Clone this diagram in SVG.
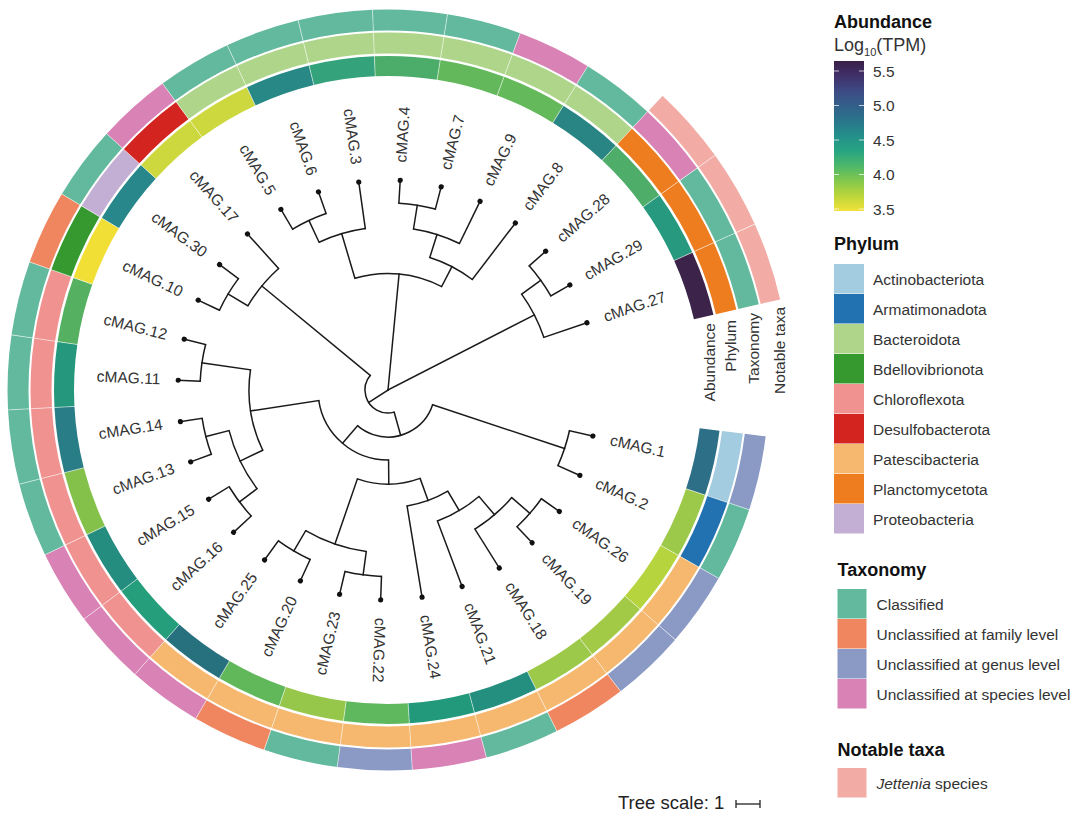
<svg xmlns="http://www.w3.org/2000/svg" width="1080" height="820" viewBox="0 0 1080 820">
<style>
text{font-family:"Liberation Sans",Arial,Helvetica,sans-serif;}
.leaf text{font-size:15.5px;fill:#333;}
.dot{fill:#111;}
.br line{stroke:#1a1a1a;stroke-width:1.5;stroke-linecap:square;}
.br circle{fill:none;stroke:#1a1a1a;stroke-width:1.5;}
.ring circle{fill:none;}
.ab{stroke-width:20;stroke-dasharray:64.09 2100;}
.ph{stroke-width:21;stroke-dasharray:68.64 2200;}
.tx{stroke-width:21;stroke-dasharray:73.19 2300;}
.nt{stroke-width:20;stroke-dasharray:77.64 2500;stroke:#f2aca5;}
.sep line{stroke:#fff;stroke-width:0.8;stroke-opacity:0.6;}
.pact{stroke:#a3cce0}.parm{stroke:#2271b0}.pbac{stroke:#afd58a}.pbde{stroke:#35992f}.pchl{stroke:#f09290}.pdes{stroke:#d42420}.ppat{stroke:#f5b86e}.ppla{stroke:#ee7d1f}.ppro{stroke:#c4afd4}
.tc{stroke:#62b99d}.tf{stroke:#ef865f}.tg{stroke:#8a9ac5}.ts{stroke:#d882b5}
.rl{font-size:15.5px;fill:#333;}
.lt{font-size:18px;font-weight:bold;fill:#111;}
.li{font-size:15.5px;fill:#333;}
.tick{stroke:#fff;stroke-width:1;stroke-opacity:0.7;}
</style>
<defs>
<linearGradient id="vir" x1="0" y1="0" x2="0" y2="1">
<stop offset="0" stop-color="#3a2048"/>
<stop offset="0.1" stop-color="#40306a"/>
<stop offset="0.2" stop-color="#3d4a84"/>
<stop offset="0.3" stop-color="#33608a"/>
<stop offset="0.4" stop-color="#2a768b"/>
<stop offset="0.5" stop-color="#24908a"/>
<stop offset="0.6" stop-color="#27a481"/>
<stop offset="0.7" stop-color="#4db86a"/>
<stop offset="0.8" stop-color="#84c84c"/>
<stop offset="0.9" stop-color="#bcd63a"/>
<stop offset="1" stop-color="#f2e23a"/>
</linearGradient>
</defs>
<rect width="1080" height="820" fill="#fff"/>

<!-- Rings -->
<g id="rings" class="ring" transform="translate(388,390)">
<g id="abundance-ring">
<circle class="ab" r="324" stroke="#2e6f88" transform="rotate(7)"/>
<circle class="ab" r="324" stroke="#9dc94b" transform="rotate(18.333)"/>
<circle class="ab" r="324" stroke="#b6d43e" transform="rotate(29.667)"/>
<circle class="ab" r="324" stroke="#a3ca47" transform="rotate(41)"/>
<circle class="ab" r="324" stroke="#9dc94b" transform="rotate(52.333)"/>
<circle class="ab" r="324" stroke="#258f7f" transform="rotate(63.667)"/>
<circle class="ab" r="324" stroke="#22997b" transform="rotate(75)"/>
<circle class="ab" r="324" stroke="#5fb85d" transform="rotate(86.333)"/>
<circle class="ab" r="324" stroke="#96c74b" transform="rotate(97.667)"/>
<circle class="ab" r="324" stroke="#61b85b" transform="rotate(109)"/>
<circle class="ab" r="324" stroke="#27717f" transform="rotate(120.333)"/>
<circle class="ab" r="324" stroke="#259e7c" transform="rotate(131.667)"/>
<circle class="ab" r="324" stroke="#258c80" transform="rotate(143)"/>
<circle class="ab" r="324" stroke="#84c14b" transform="rotate(154.333)"/>
<circle class="ab" r="324" stroke="#297d87" transform="rotate(165.667)"/>
<circle class="ab" r="324" stroke="#24977d" transform="rotate(177)"/>
<circle class="ab" r="324" stroke="#55b061" transform="rotate(188.333)"/>
<circle class="ab" r="324" stroke="#f1df35" transform="rotate(199.667)"/>
<circle class="ab" r="324" stroke="#27878a" transform="rotate(211)"/>
<circle class="ab" r="324" stroke="#cdd83f" transform="rotate(222.333)"/>
<circle class="ab" r="324" stroke="#cdd83f" transform="rotate(233.667)"/>
<circle class="ab" r="324" stroke="#288885" transform="rotate(245)"/>
<circle class="ab" r="324" stroke="#34a27a" transform="rotate(256.333)"/>
<circle class="ab" r="324" stroke="#4cac6a" transform="rotate(267.667)"/>
<circle class="ab" r="324" stroke="#62b85b" transform="rotate(279)"/>
<circle class="ab" r="324" stroke="#64b95b" transform="rotate(290.333)"/>
<circle class="ab" r="324" stroke="#298584" transform="rotate(301.667)"/>
<circle class="ab" r="324" stroke="#4fad6a" transform="rotate(313)"/>
<circle class="ab" r="324" stroke="#26997f" transform="rotate(324.333)"/>
<circle class="ab" r="324" stroke="#3b2349" transform="rotate(335.667)"/>
</g>
<g id="phylum-ring">
<circle class="ph pact" r="347" transform="rotate(7)"/>
<circle class="ph parm" r="347" transform="rotate(18.333)"/>
<circle class="ph ppat" r="347" transform="rotate(29.667)"/>
<circle class="ph ppat" r="347" transform="rotate(41)"/>
<circle class="ph ppat" r="347" transform="rotate(52.333)"/>
<circle class="ph ppat" r="347" transform="rotate(63.667)"/>
<circle class="ph ppat" r="347" transform="rotate(75)"/>
<circle class="ph ppat" r="347" transform="rotate(86.333)"/>
<circle class="ph ppat" r="347" transform="rotate(97.667)"/>
<circle class="ph ppat" r="347" transform="rotate(109)"/>
<circle class="ph ppat" r="347" transform="rotate(120.333)"/>
<circle class="ph pchl" r="347" transform="rotate(131.667)"/>
<circle class="ph pchl" r="347" transform="rotate(143)"/>
<circle class="ph pchl" r="347" transform="rotate(154.333)"/>
<circle class="ph pchl" r="347" transform="rotate(165.667)"/>
<circle class="ph pchl" r="347" transform="rotate(177)"/>
<circle class="ph pchl" r="347" transform="rotate(188.333)"/>
<circle class="ph pbde" r="347" transform="rotate(199.667)"/>
<circle class="ph ppro" r="347" transform="rotate(211)"/>
<circle class="ph pdes" r="347" transform="rotate(222.333)"/>
<circle class="ph pbac" r="347" transform="rotate(233.667)"/>
<circle class="ph pbac" r="347" transform="rotate(245)"/>
<circle class="ph pbac" r="347" transform="rotate(256.333)"/>
<circle class="ph pbac" r="347" transform="rotate(267.667)"/>
<circle class="ph pbac" r="347" transform="rotate(279)"/>
<circle class="ph pbac" r="347" transform="rotate(290.333)"/>
<circle class="ph pbac" r="347" transform="rotate(301.667)"/>
<circle class="ph ppla" r="347" transform="rotate(313)"/>
<circle class="ph ppla" r="347" transform="rotate(324.333)"/>
<circle class="ph ppla" r="347" transform="rotate(335.667)"/>
</g>
<g id="taxonomy-ring">
<circle class="tx tg" r="370" transform="rotate(7)"/>
<circle class="tx tc" r="370" transform="rotate(18.333)"/>
<circle class="tx tg" r="370" transform="rotate(29.667)"/>
<circle class="tx tg" r="370" transform="rotate(41)"/>
<circle class="tx tf" r="370" transform="rotate(52.333)"/>
<circle class="tx tc" r="370" transform="rotate(63.667)"/>
<circle class="tx ts" r="370" transform="rotate(75)"/>
<circle class="tx tg" r="370" transform="rotate(86.333)"/>
<circle class="tx tc" r="370" transform="rotate(97.667)"/>
<circle class="tx tf" r="370" transform="rotate(109)"/>
<circle class="tx ts" r="370" transform="rotate(120.333)"/>
<circle class="tx ts" r="370" transform="rotate(131.667)"/>
<circle class="tx ts" r="370" transform="rotate(143)"/>
<circle class="tx tc" r="370" transform="rotate(154.333)"/>
<circle class="tx tc" r="370" transform="rotate(165.667)"/>
<circle class="tx tc" r="370" transform="rotate(177)"/>
<circle class="tx tc" r="370" transform="rotate(188.333)"/>
<circle class="tx tf" r="370" transform="rotate(199.667)"/>
<circle class="tx tc" r="370" transform="rotate(211)"/>
<circle class="tx ts" r="370" transform="rotate(222.333)"/>
<circle class="tx tc" r="370" transform="rotate(233.667)"/>
<circle class="tx tc" r="370" transform="rotate(245)"/>
<circle class="tx tc" r="370" transform="rotate(256.333)"/>
<circle class="tx tc" r="370" transform="rotate(267.667)"/>
<circle class="tx tc" r="370" transform="rotate(279)"/>
<circle class="tx ts" r="370" transform="rotate(290.333)"/>
<circle class="tx tc" r="370" transform="rotate(301.667)"/>
<circle class="tx ts" r="370" transform="rotate(313)"/>
<circle class="tx tc" r="370" transform="rotate(324.333)"/>
<circle class="tx tc" r="370" transform="rotate(335.667)"/>
</g>
<g id="notable-ring">
<circle class="nt" r="392.5" transform="rotate(313)"/>
<circle class="nt" r="392.5" transform="rotate(324.333)"/>
<circle class="nt" r="392.5" transform="rotate(335.667)"/>
</g>
<g class="sep">
<line x1="313" x2="381" transform="rotate(18.333)"/>
<line x1="313" x2="381" transform="rotate(29.667)"/>
<line x1="313" x2="381" transform="rotate(41)"/>
<line x1="313" x2="381" transform="rotate(52.333)"/>
<line x1="313" x2="381" transform="rotate(63.667)"/>
<line x1="313" x2="381" transform="rotate(75)"/>
<line x1="313" x2="381" transform="rotate(86.333)"/>
<line x1="313" x2="381" transform="rotate(97.667)"/>
<line x1="313" x2="381" transform="rotate(109)"/>
<line x1="313" x2="381" transform="rotate(120.333)"/>
<line x1="313" x2="381" transform="rotate(131.667)"/>
<line x1="313" x2="381" transform="rotate(143)"/>
<line x1="313" x2="381" transform="rotate(154.333)"/>
<line x1="313" x2="381" transform="rotate(165.667)"/>
<line x1="313" x2="381" transform="rotate(177)"/>
<line x1="313" x2="381" transform="rotate(188.333)"/>
<line x1="313" x2="381" transform="rotate(199.667)"/>
<line x1="313" x2="381" transform="rotate(211)"/>
<line x1="313" x2="381" transform="rotate(222.333)"/>
<line x1="313" x2="381" transform="rotate(233.667)"/>
<line x1="313" x2="381" transform="rotate(245)"/>
<line x1="313" x2="381" transform="rotate(256.333)"/>
<line x1="313" x2="381" transform="rotate(267.667)"/>
<line x1="313" x2="381" transform="rotate(279)"/>
<line x1="313" x2="381" transform="rotate(290.333)"/>
<line x1="313" x2="381" transform="rotate(301.667)"/>
<line x1="313" x2="403" transform="rotate(313)"/>
<line x1="313" x2="403" transform="rotate(324.333)"/>
<line x1="313" x2="403" transform="rotate(335.667)"/>
</g>
</g>

<!-- Ring labels -->
<g id="ring-labels" class="rl">
<text class="rl" transform="translate(715,323) rotate(-90)" text-anchor="end">Abundance</text>
<text class="rl" transform="translate(736,320) rotate(-90)" text-anchor="end">Phylum</text>
<text class="rl" transform="translate(759,313) rotate(-90)" text-anchor="end">Taxonomy</text>
<text class="rl" transform="translate(785,307) rotate(-90)" text-anchor="end">Notable taxa</text>
</g>

<!-- Tree branches -->
<g id="connectors" class="br" transform="translate(388,390)">
<line x1="186" x2="210" transform="rotate(12.667)"/>
<line x1="186" x2="210" transform="rotate(24)"/>
<line x1="188" x2="210" transform="rotate(35.333)"/>
<line x1="188" x2="210" transform="rotate(46.667)"/>
<line x1="164" x2="210" transform="rotate(58)"/>
<line x1="140" x2="210" transform="rotate(69.333)"/>
<line x1="117.5" x2="210" transform="rotate(80.667)"/>
<line x1="186.5" x2="210" transform="rotate(92)"/>
<line x1="186.5" x2="210" transform="rotate(103.333)"/>
<line x1="186.5" x2="210" transform="rotate(114.667)"/>
<line x1="186.5" x2="210" transform="rotate(126)"/>
<line x1="186" x2="210" transform="rotate(137.333)"/>
<line x1="186" x2="210" transform="rotate(148.667)"/>
<line x1="188" x2="210" transform="rotate(160)"/>
<line x1="188" x2="210" transform="rotate(171.333)"/>
<line x1="188" x2="210" transform="rotate(182.667)"/>
<line x1="188" x2="210" transform="rotate(194)"/>
<line x1="186.5" x2="210" transform="rotate(205.333)"/>
<line x1="186.5" x2="210" transform="rotate(216.667)"/>
<line x1="163.5" x2="210" transform="rotate(228)"/>
<line x1="187" x2="210" transform="rotate(239.333)"/>
<line x1="187" x2="210" transform="rotate(250.667)"/>
<line x1="163" x2="210" transform="rotate(262)"/>
<line x1="187" x2="210" transform="rotate(273.333)"/>
<line x1="187" x2="210" transform="rotate(284.667)"/>
<line x1="163" x2="210" transform="rotate(296)"/>
<line x1="139" x2="210" transform="rotate(307.333)"/>
<line x1="188" x2="210" transform="rotate(318.667)"/>
<line x1="188" x2="210" transform="rotate(330)"/>
<line x1="164.5" x2="210" transform="rotate(341.333)"/>
<line x1="47" x2="186" transform="rotate(18.333)"/>
<line x1="164" x2="188" transform="rotate(41)"/>
<line x1="140" x2="164" transform="rotate(49.5)"/>
<line x1="117.5" x2="140" transform="rotate(59.417)"/>
<line x1="94" x2="117.5" transform="rotate(70.042)"/>
<line x1="163" x2="186.5" transform="rotate(97.667)"/>
<line x1="163" x2="186.5" transform="rotate(120.333)"/>
<line x1="94" x2="163" transform="rotate(109)"/>
<line x1="70" x2="94" transform="rotate(89.521)"/>
<line x1="164" x2="186" transform="rotate(143)"/>
<line x1="164" x2="188" transform="rotate(165.667)"/>
<line x1="139" x2="164" transform="rotate(154.333)"/>
<line x1="139" x2="188" transform="rotate(188.333)"/>
<line x1="70" x2="139" transform="rotate(171.333)"/>
<line x1="47" x2="70" transform="rotate(130.427)"/>
<line x1="23" x2="47" transform="rotate(74.38)"/>
<line x1="163.5" x2="186.5" transform="rotate(211)"/>
<line x1="23" x2="163.5" transform="rotate(219.5)"/>
<line x1="0" x2="23" transform="rotate(146.94)"/>
<line x1="163" x2="187" transform="rotate(245)"/>
<line x1="116.5" x2="163" transform="rotate(253.5)"/>
<line x1="163" x2="187" transform="rotate(279)"/>
<line x1="139" x2="163" transform="rotate(287.5)"/>
<line x1="116.5" x2="139" transform="rotate(297.417)"/>
<line x1="0" x2="116.5" transform="rotate(275.458)"/>
<line x1="164.5" x2="188" transform="rotate(324.333)"/>
<line x1="0" x2="164.5" transform="rotate(332.833)"/>
<circle r="186" stroke-dasharray="36.79 2000" transform="rotate(12.667)"/>
<circle r="188" stroke-dasharray="37.19 2000" transform="rotate(35.333)"/>
<circle r="164" stroke-dasharray="48.66 2000" transform="rotate(41)"/>
<circle r="140" stroke-dasharray="48.46 2000" transform="rotate(49.5)"/>
<circle r="117.5" stroke-dasharray="43.58 2000" transform="rotate(59.417)"/>
<circle r="186.5" stroke-dasharray="36.89 2000" transform="rotate(92)"/>
<circle r="186.5" stroke-dasharray="36.89 2000" transform="rotate(114.667)"/>
<circle r="163" stroke-dasharray="64.48 2000" transform="rotate(97.667)"/>
<circle r="94" stroke-dasharray="63.92 2000" transform="rotate(70.042)"/>
<circle r="186" stroke-dasharray="36.79 2000" transform="rotate(137.333)"/>
<circle r="188" stroke-dasharray="37.19 2000" transform="rotate(160)"/>
<circle r="164" stroke-dasharray="64.88 2000" transform="rotate(143)"/>
<circle r="188" stroke-dasharray="37.19 2000" transform="rotate(182.667)"/>
<circle r="139" stroke-dasharray="82.48 2000" transform="rotate(154.333)"/>
<circle r="70" stroke-dasharray="99.95 2000" transform="rotate(89.521)"/>
<circle r="47" stroke-dasharray="91.95 2000" transform="rotate(18.333)"/>
<circle r="186.5" stroke-dasharray="36.89 2000" transform="rotate(205.333)"/>
<circle r="163.5" stroke-dasharray="48.51 2000" transform="rotate(211)"/>
<circle r="23" stroke-dasharray="58.25 2000" transform="rotate(74.38)"/>
<circle r="187" stroke-dasharray="36.99 2000" transform="rotate(239.333)"/>
<circle r="163" stroke-dasharray="48.36 2000" transform="rotate(245)"/>
<circle r="187" stroke-dasharray="36.99 2000" transform="rotate(273.333)"/>
<circle r="163" stroke-dasharray="48.36 2000" transform="rotate(279)"/>
<circle r="139" stroke-dasharray="48.12 2000" transform="rotate(287.5)"/>
<circle r="116.5" stroke-dasharray="89.30 2000" transform="rotate(253.5)"/>
<circle r="188" stroke-dasharray="37.19 2000" transform="rotate(318.667)"/>
<circle r="164.5" stroke-dasharray="48.81 2000" transform="rotate(324.333)"/>
</g>

<!-- Leaves -->
<g id="leaves" class="leaf" transform="translate(388,390)">
<g id="cMAG-1" transform="rotate(12.667)"><circle class="dot" cx="210" r="2.6"/><text x="228" dy="0.33em">cMAG.1</text></g>
<g id="cMAG-2" transform="rotate(24)"><circle class="dot" cx="210" r="2.6"/><text x="228" dy="0.33em">cMAG.2</text></g>
<g id="cMAG-26" transform="rotate(35.333)"><circle class="dot" cx="210" r="2.6"/><text x="228" dy="0.33em">cMAG.26</text></g>
<g id="cMAG-19" transform="rotate(46.667)"><circle class="dot" cx="210" r="2.6"/><text x="228" dy="0.33em">cMAG.19</text></g>
<g id="cMAG-18" transform="rotate(58)"><circle class="dot" cx="210" r="2.6"/><text x="228" dy="0.33em">cMAG.18</text></g>
<g id="cMAG-21" transform="rotate(69.333)"><circle class="dot" cx="210" r="2.6"/><text x="228" dy="0.33em">cMAG.21</text></g>
<g id="cMAG-24" transform="rotate(80.667)"><circle class="dot" cx="210" r="2.6"/><text x="228" dy="0.33em">cMAG.24</text></g>
<g id="cMAG-22" transform="rotate(92)"><circle class="dot" cx="210" r="2.6"/><text x="228" dy="0.33em">cMAG.22</text></g>
<g id="cMAG-23" transform="rotate(103.333)"><circle class="dot" cx="210" r="2.6"/><text transform="rotate(180)" x="-228" dy="0.33em" text-anchor="end">cMAG.23</text></g>
<g id="cMAG-20" transform="rotate(114.667)"><circle class="dot" cx="210" r="2.6"/><text transform="rotate(180)" x="-228" dy="0.33em" text-anchor="end">cMAG.20</text></g>
<g id="cMAG-25" transform="rotate(126)"><circle class="dot" cx="210" r="2.6"/><text transform="rotate(180)" x="-228" dy="0.33em" text-anchor="end">cMAG.25</text></g>
<g id="cMAG-16" transform="rotate(137.333)"><circle class="dot" cx="210" r="2.6"/><text transform="rotate(180)" x="-228" dy="0.33em" text-anchor="end">cMAG.16</text></g>
<g id="cMAG-15" transform="rotate(148.667)"><circle class="dot" cx="210" r="2.6"/><text transform="rotate(180)" x="-228" dy="0.33em" text-anchor="end">cMAG.15</text></g>
<g id="cMAG-13" transform="rotate(160)"><circle class="dot" cx="210" r="2.6"/><text transform="rotate(180)" x="-228" dy="0.33em" text-anchor="end">cMAG.13</text></g>
<g id="cMAG-14" transform="rotate(171.333)"><circle class="dot" cx="210" r="2.6"/><text transform="rotate(180)" x="-228" dy="0.33em" text-anchor="end">cMAG.14</text></g>
<g id="cMAG-11" transform="rotate(182.667)"><circle class="dot" cx="210" r="2.6"/><text transform="rotate(180)" x="-228" dy="0.33em" text-anchor="end">cMAG.11</text></g>
<g id="cMAG-12" transform="rotate(194)"><circle class="dot" cx="210" r="2.6"/><text transform="rotate(180)" x="-228" dy="0.33em" text-anchor="end">cMAG.12</text></g>
<g id="cMAG-10" transform="rotate(205.333)"><circle class="dot" cx="210" r="2.6"/><text transform="rotate(180)" x="-228" dy="0.33em" text-anchor="end">cMAG.10</text></g>
<g id="cMAG-30" transform="rotate(216.667)"><circle class="dot" cx="210" r="2.6"/><text transform="rotate(180)" x="-228" dy="0.33em" text-anchor="end">cMAG.30</text></g>
<g id="cMAG-17" transform="rotate(228)"><circle class="dot" cx="210" r="2.6"/><text transform="rotate(180)" x="-228" dy="0.33em" text-anchor="end">cMAG.17</text></g>
<g id="cMAG-5" transform="rotate(239.333)"><circle class="dot" cx="210" r="2.6"/><text transform="rotate(180)" x="-228" dy="0.33em" text-anchor="end">cMAG.5</text></g>
<g id="cMAG-6" transform="rotate(250.667)"><circle class="dot" cx="210" r="2.6"/><text transform="rotate(180)" x="-228" dy="0.33em" text-anchor="end">cMAG.6</text></g>
<g id="cMAG-3" transform="rotate(262)"><circle class="dot" cx="210" r="2.6"/><text transform="rotate(180)" x="-228" dy="0.33em" text-anchor="end">cMAG.3</text></g>
<g id="cMAG-4" transform="rotate(273.333)"><circle class="dot" cx="210" r="2.6"/><text x="228" dy="0.33em">cMAG.4</text></g>
<g id="cMAG-7" transform="rotate(284.667)"><circle class="dot" cx="210" r="2.6"/><text x="228" dy="0.33em">cMAG.7</text></g>
<g id="cMAG-9" transform="rotate(296)"><circle class="dot" cx="210" r="2.6"/><text x="228" dy="0.33em">cMAG.9</text></g>
<g id="cMAG-8" transform="rotate(307.333)"><circle class="dot" cx="210" r="2.6"/><text x="228" dy="0.33em">cMAG.8</text></g>
<g id="cMAG-28" transform="rotate(318.667)"><circle class="dot" cx="210" r="2.6"/><text x="228" dy="0.33em">cMAG.28</text></g>
<g id="cMAG-29" transform="rotate(330)"><circle class="dot" cx="210" r="2.6"/><text x="228" dy="0.33em">cMAG.29</text></g>
<g id="cMAG-27" transform="rotate(341.333)"><circle class="dot" cx="210" r="2.6"/><text x="228" dy="0.33em">cMAG.27</text></g>
</g>

<!-- Legend: Abundance -->
<g id="legend-abundance">
<text class="lt" x="834" y="28">Abundance</text>
<text x="834" y="51" font-size="18" fill="#333">Log<tspan font-size="11" dy="5">10</tspan><tspan dy="-5">(TPM)</tspan></text>
<rect x="834" y="61" width="30" height="150" fill="url(#vir)"/>
<g class="tick">
<line x1="834" y1="71" x2="839" y2="71"/><line x1="859" y1="71" x2="864" y2="71"/>
<line x1="834" y1="105.5" x2="839" y2="105.5"/><line x1="859" y1="105.5" x2="864" y2="105.5"/>
<line x1="834" y1="140" x2="839" y2="140"/><line x1="859" y1="140" x2="864" y2="140"/>
<line x1="834" y1="174.5" x2="839" y2="174.5"/><line x1="859" y1="174.5" x2="864" y2="174.5"/>
<line x1="834" y1="209" x2="839" y2="209"/><line x1="859" y1="209" x2="864" y2="209"/>
</g>
<text class="li" x="873" y="77">5.5</text>
<text class="li" x="873" y="111">5.0</text>
<text class="li" x="873" y="145.5">4.5</text>
<text class="li" x="873" y="180">4.0</text>
<text class="li" x="873" y="214.5">3.5</text>
</g>

<!-- Legend: Phylum -->
<g id="legend-phylum">
<text class="lt" x="834" y="250">Phylum</text>
<rect x="834" y="264" width="30" height="29.5" fill="#a3cce0"/>
<rect x="834" y="294" width="30" height="29.5" fill="#2271b0"/>
<rect x="834" y="324" width="30" height="29.5" fill="#afd58a"/>
<rect x="834" y="354" width="30" height="29.5" fill="#35992f"/>
<rect x="834" y="384" width="30" height="29.5" fill="#f09290"/>
<rect x="834" y="414" width="30" height="29.5" fill="#d42420"/>
<rect x="834" y="444" width="30" height="29.5" fill="#f5b86e"/>
<rect x="834" y="474" width="30" height="29.5" fill="#ee7d1f"/>
<rect x="834" y="504" width="30" height="29.5" fill="#c4afd4"/>
<text class="li" x="873" y="285">Actinobacteriota</text>
<text class="li" x="873" y="315">Armatimonadota</text>
<text class="li" x="873" y="345">Bacteroidota</text>
<text class="li" x="873" y="375">Bdellovibrionota</text>
<text class="li" x="873" y="405">Chloroflexota</text>
<text class="li" x="873" y="435">Desulfobacterota</text>
<text class="li" x="873" y="465">Patescibacteria</text>
<text class="li" x="873" y="495">Planctomycetota</text>
<text class="li" x="873" y="525">Proteobacteria</text>
</g>

<!-- Legend: Taxonomy -->
<g id="legend-taxonomy">
<text class="lt" x="837.5" y="576">Taxonomy</text>
<rect x="837.5" y="589" width="29" height="29.5" fill="#62b99d"/>
<rect x="837.5" y="619" width="29" height="29.5" fill="#ef865f"/>
<rect x="837.5" y="649" width="29" height="29.5" fill="#8a9ac5"/>
<rect x="837.5" y="679" width="29" height="29.5" fill="#d882b5"/>
<text class="li" x="876.5" y="610">Classified</text>
<text class="li" x="876.5" y="640">Unclassified at family level</text>
<text class="li" x="876.5" y="670">Unclassified at genus level</text>
<text class="li" x="876.5" y="700">Unclassified at species level</text>
</g>

<!-- Legend: Notable taxa -->
<g id="legend-notable">
<text class="lt" x="837.5" y="756">Notable taxa</text>
<rect x="837.5" y="768" width="29" height="29.5" fill="#f2aca5"/>
<text class="li" x="876.5" y="789"><tspan font-style="italic">Jettenia</tspan> species</text>
</g>

<!-- Tree scale -->
<g id="tree-scale">
<text x="618" y="809" font-size="18.5" fill="#222">Tree scale: 1</text>
<g stroke="#222" stroke-width="1.3">
<line x1="736" y1="804" x2="760" y2="804"/>
<line x1="736" y1="800" x2="736" y2="808"/>
<line x1="760" y1="800" x2="760" y2="808"/>
</g>
</g>
</svg>
